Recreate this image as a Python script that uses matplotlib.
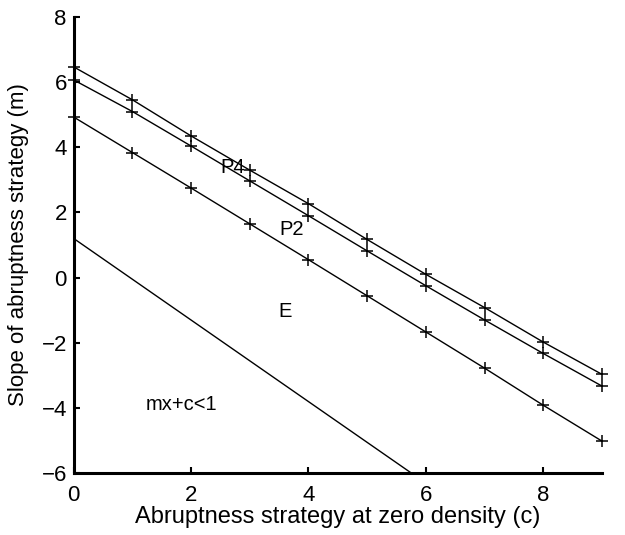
import matplotlib
matplotlib.use("Agg")
import matplotlib.pyplot as plt

plt.rcParams['font.family'] = ['Liberation Sans', 'DejaVu Sans']

# abruptness at zero density (c)
c_vals = [0, 1, 2, 3, 4, 5, 6, 7, 8, 9]

# boundary slopes for the two strategies and the E boundary
m_p4 = [6.47, 5.46, 4.35, 3.30, 2.27, 1.17, 0.10, -0.92, -1.98, -2.97]
m_p2 = [6.07, 5.10, 4.04, 2.97, 1.90, 0.82, -0.25, -1.30, -2.33, -3.33]
m_e = [4.93, 3.84, 2.75, 1.65, 0.55, -0.56, -1.67, -2.78, -3.92, -5.02]

# mx+c=1 line (clipped at the bottom of the axis)
c_lim = [0, 5.75]
m_lim = [1.2, -6.0]

fig = plt.figure(figsize=(6.25, 5.35), dpi=100)
ax = fig.add_axes([0.118, 0.116, 0.845, 0.852])

for m in (m_p4, m_p2, m_e):
    ax.plot(c_vals, m, color='black', linewidth=1.0, marker='+',
            markersize=9, markeredgewidth=1.1, clip_on=False)
ax.plot(c_lim, m_lim, color='black', linewidth=1.0)

ax.text(2.71, 3.39, 'P4', fontsize=14.5, ha='center', va='center')
ax.text(3.71, 1.47, 'P2', fontsize=14.5, ha='center', va='center')
ax.text(3.60, -1.05, 'E', fontsize=14.5, ha='center', va='center')
ax.text(1.83, -3.9, 'mx+c<1', fontsize=14.5, ha='center', va='center')

ax.set_xlim(0, 9)
ax.set_ylim(-6, 8)
ax.set_xticks([0, 2, 4, 6, 8])
ax.set_yticks([-6, -4, -2, 0, 2, 4, 6, 8])
ax.set_yticklabels(['\u22126', '\u22124', '\u22122', '0', '2', '4', '6', '8'])

ax.spines['top'].set_visible(False)
ax.spines['right'].set_visible(False)
ax.spines['left'].set_linewidth(2.2)
ax.spines['bottom'].set_linewidth(2.2)
ax.tick_params(direction='in', length=4, width=1.5, labelsize=16)
ax.tick_params(axis='x', pad=9)
ax.tick_params(axis='y', pad=5)

ax.set_xlabel('Abruptness strategy at zero density (c)', fontsize=17, labelpad=0)
ax.set_ylabel('Slope of abruptness strategy (m)', fontsize=16, labelpad=9)

fig.savefig('out.png', dpi=100)
